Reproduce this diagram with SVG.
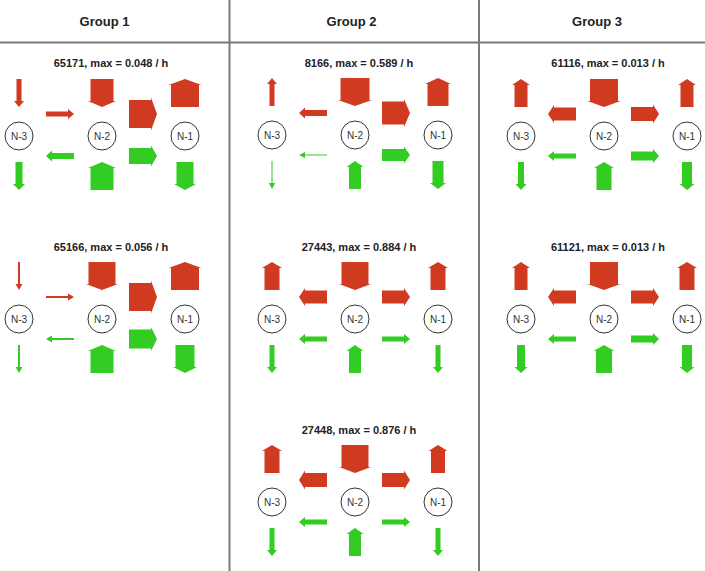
<svg xmlns="http://www.w3.org/2000/svg" width="705" height="571" viewBox="0 0 705 571">
<style>
.hdr{font-family:"Liberation Sans",Arial,sans-serif;font-size:13px;font-weight:bold;fill:#222;text-anchor:middle}
.ttl{font-family:"Liberation Sans",Arial,sans-serif;font-size:11px;font-weight:bold;fill:#222;text-anchor:middle}
.nd circle{fill:#fff;stroke:#333;stroke-width:1}
.nd text{font-family:"Liberation Sans",Arial,sans-serif;font-size:10px;fill:#333;text-anchor:middle}
.r{fill:#cf3a20}
.g{fill:#33cc22}
.grid{stroke:#7a7a7a;stroke-width:2;fill:none}
</style>
<defs>
<polygon id="a1" points="-14,-0.5 8,-0.5 8,-3 14,0 8,3 8,0.5 -14,0.5"/>
<polygon id="a2" points="-14,-1 8,-1 8,-3.5 14,0 8,3.5 8,1 -14,1"/>
<polygon id="a5" points="-14,-2.5 8,-2.5 8,-5 14,0 8,5 8,2.5 -14,2.5"/>
<polygon id="a6" points="-14,-3 8,-3 8,-5.5 14,0 8,5.5 8,3 -14,3"/>
<polygon id="a7" points="-14,-3.5 8,-3.5 8,-6 14,0 8,6 8,3.5 -14,3.5"/>
<polygon id="a8" points="-14,-4 8,-4 8,-6.5 14,0 8,6.5 8,4 -14,4"/>
<polygon id="a9" points="-14,-4.5 8,-4.5 8,-7 14,0 8,7 8,4.5 -14,4.5"/>
<polygon id="a10" points="-14,-5 8,-5 8,-7.5 14,0 8,7.5 8,5 -14,5"/>
<polygon id="a11" points="-14,-5.5 8,-5.5 8,-8 14,0 8,8 8,5.5 -14,5.5"/>
<polygon id="a12" points="-14,-6 8,-6 8,-8.5 14,0 8,8.5 8,6 -14,6"/>
<polygon id="a13" points="-14,-6.5 8,-6.5 8,-9 14,0 8,9 8,6.5 -14,6.5"/>
<polygon id="a14" points="-14,-7 8,-7 8,-9.5 14,0 8,9.5 8,7 -14,7"/>
<polygon id="a15" points="-14,-7.5 8,-7.5 8,-10 14,0 8,10 8,7.5 -14,7.5"/>
<polygon id="a16" points="-14,-8 8,-8 8,-10.5 14,0 8,10.5 8,8 -14,8"/>
<polygon id="a17" points="-14,-8.5 8,-8.5 8,-11 14,0 8,11 8,8.5 -14,8.5"/>
<polygon id="a19" points="-14,-9.5 8,-9.5 8,-12 14,0 8,12 8,9.5 -14,9.5"/>
<polygon id="a21" points="-14,-10.5 8,-10.5 8,-13 14,0 8,13 8,10.5 -14,10.5"/>
<polygon id="a23" points="-14,-11.5 8,-11.5 8,-14 14,0 8,14 8,11.5 -14,11.5"/>
<polygon id="a27" points="-14,-13.5 8,-13.5 8,-16 14,0 8,16 8,13.5 -14,13.5"/>
<polygon id="a28" points="-14,-14 8,-14 8,-16.5 14,0 8,16.5 8,14 -14,14"/>
<polygon id="a29" points="-14,-14.5 8,-14.5 8,-17 14,0 8,17 8,14.5 -14,14.5"/>
</defs>
<rect width="705" height="571" fill="#fff"/>
<g id="grid">
<line class="grid" x1="0" y1="42.5" x2="705" y2="42.5"/>
<line class="grid" x1="229.5" y1="0" x2="229.5" y2="571"/>
<line class="grid" x1="479" y1="0" x2="479" y2="571"/>
</g>
<g id="headers">
<text class="hdr" x="104.5" y="26">Group 1</text>
<text class="hdr" x="351.5" y="26">Group 2</text>
<text class="hdr" x="597" y="26">Group 3</text>
</g>
<g id="titles">
<text class="ttl" x="111" y="67">65171, max = 0.048 / h</text>
<text class="ttl" x="111" y="251">65166, max = 0.056 / h</text>
<text class="ttl" x="359" y="67">8166, max = 0.589 / h</text>
<text class="ttl" x="359" y="251">27443, max = 0.884 / h</text>
<text class="ttl" x="359" y="434">27448, max = 0.876 / h</text>
<text class="ttl" x="608" y="67">61116, max = 0.013 / h</text>
<text class="ttl" x="608" y="251">61121, max = 0.013 / h</text>
</g>
<g id="connectors">
<g id="c-p1">
<use href="#a5" class="r" transform="translate(19,93) rotate(90)"/>
<use href="#a23" class="r" transform="translate(102,93) rotate(90)"/>
<use href="#a28" class="r" transform="translate(185,93) rotate(-90)"/>
<use href="#a5" class="r" transform="translate(60,114)"/>
<use href="#a28" class="r" transform="translate(143,114)"/>
<use href="#a6" class="g" transform="translate(60,156) rotate(180)"/>
<use href="#a16" class="g" transform="translate(143,156)"/>
<use href="#a7" class="g" transform="translate(19,176) rotate(90)"/>
<use href="#a23" class="g" transform="translate(102,176) rotate(-90)"/>
<use href="#a17" class="g" transform="translate(185,176) rotate(90)"/>
</g>
<g id="c-p2">
<use href="#a2" class="r" transform="translate(19,276) rotate(90)"/>
<use href="#a27" class="r" transform="translate(102,276) rotate(90)"/>
<use href="#a28" class="r" transform="translate(185,276) rotate(-90)"/>
<use href="#a2" class="r" transform="translate(60,297)"/>
<use href="#a28" class="r" transform="translate(143,297)"/>
<use href="#a2" class="g" transform="translate(60,339) rotate(180)"/>
<use href="#a19" class="g" transform="translate(143,339)"/>
<use href="#a2" class="g" transform="translate(19,359) rotate(90)"/>
<use href="#a23" class="g" transform="translate(102,359) rotate(-90)"/>
<use href="#a19" class="g" transform="translate(185,359) rotate(90)"/>
</g>
<g id="c-p3">
<use href="#a5" class="r" transform="translate(272,92) rotate(-90)"/>
<use href="#a29" class="r" transform="translate(355,92) rotate(90)"/>
<use href="#a21" class="r" transform="translate(438,92) rotate(-90)"/>
<use href="#a6" class="r" transform="translate(313,113) rotate(180)"/>
<use href="#a23" class="r" transform="translate(396,113)"/>
<use href="#a1" class="g" transform="translate(313,155) rotate(180)"/>
<use href="#a12" class="g" transform="translate(396,155)"/>
<use href="#a1" class="g" transform="translate(272,175) rotate(90)"/>
<use href="#a12" class="g" transform="translate(355,175) rotate(-90)"/>
<use href="#a11" class="g" transform="translate(438,175) rotate(90)"/>
</g>
<g id="c-p4">
<use href="#a15" class="r" transform="translate(272,276) rotate(-90)"/>
<use href="#a27" class="r" transform="translate(355,276) rotate(90)"/>
<use href="#a15" class="r" transform="translate(438,276) rotate(-90)"/>
<use href="#a13" class="r" transform="translate(313,297) rotate(180)"/>
<use href="#a13" class="r" transform="translate(396,297)"/>
<use href="#a5" class="g" transform="translate(313,339) rotate(180)"/>
<use href="#a5" class="g" transform="translate(396,339)"/>
<use href="#a5" class="g" transform="translate(272,359) rotate(90)"/>
<use href="#a12" class="g" transform="translate(355,359) rotate(-90)"/>
<use href="#a5" class="g" transform="translate(438,359) rotate(90)"/>
</g>
<g id="c-p5">
<use href="#a15" class="r" transform="translate(272,459) rotate(-90)"/>
<use href="#a27" class="r" transform="translate(355,459) rotate(90)"/>
<use href="#a14" class="r" transform="translate(438,459) rotate(-90)"/>
<use href="#a14" class="r" transform="translate(313,480) rotate(180)"/>
<use href="#a14" class="r" transform="translate(396,480)"/>
<use href="#a5" class="g" transform="translate(313,522) rotate(180)"/>
<use href="#a5" class="g" transform="translate(396,522)"/>
<use href="#a5" class="g" transform="translate(272,542) rotate(90)"/>
<use href="#a12" class="g" transform="translate(355,542) rotate(-90)"/>
<use href="#a5" class="g" transform="translate(438,542) rotate(90)"/>
</g>
<g id="c-p6">
<use href="#a13" class="r" transform="translate(521,93) rotate(-90)"/>
<use href="#a28" class="r" transform="translate(604,93) rotate(90)"/>
<use href="#a13" class="r" transform="translate(687,93) rotate(-90)"/>
<use href="#a13" class="r" transform="translate(562,114) rotate(180)"/>
<use href="#a14" class="r" transform="translate(645,114)"/>
<use href="#a5" class="g" transform="translate(562,156) rotate(180)"/>
<use href="#a9" class="g" transform="translate(645,156)"/>
<use href="#a6" class="g" transform="translate(521,176) rotate(90)"/>
<use href="#a15" class="g" transform="translate(604,176) rotate(-90)"/>
<use href="#a10" class="g" transform="translate(687,176) rotate(90)"/>
</g>
<g id="c-p7">
<use href="#a13" class="r" transform="translate(521,276) rotate(-90)"/>
<use href="#a28" class="r" transform="translate(604,276) rotate(90)"/>
<use href="#a15" class="r" transform="translate(687,276) rotate(-90)"/>
<use href="#a13" class="r" transform="translate(562,297) rotate(180)"/>
<use href="#a13" class="r" transform="translate(645,297)"/>
<use href="#a5" class="g" transform="translate(562,339) rotate(180)"/>
<use href="#a7" class="g" transform="translate(645,339)"/>
<use href="#a8" class="g" transform="translate(521,359) rotate(90)"/>
<use href="#a16" class="g" transform="translate(604,359) rotate(-90)"/>
<use href="#a10" class="g" transform="translate(687,359) rotate(90)"/>
</g>
</g>
<g id="p1-n3" class="nd"><circle cx="19" cy="136" r="14"/><text x="19" y="139.5">N-3</text></g>
<g id="p1-n2" class="nd"><circle cx="102" cy="136" r="14"/><text x="102" y="139.5">N-2</text></g>
<g id="p1-n1" class="nd"><circle cx="185" cy="136" r="14"/><text x="185" y="139.5">N-1</text></g>
<g id="p2-n3" class="nd"><circle cx="19" cy="319" r="14"/><text x="19" y="322.5">N-3</text></g>
<g id="p2-n2" class="nd"><circle cx="102" cy="319" r="14"/><text x="102" y="322.5">N-2</text></g>
<g id="p2-n1" class="nd"><circle cx="185" cy="319" r="14"/><text x="185" y="322.5">N-1</text></g>
<g id="p3-n3" class="nd"><circle cx="272" cy="135" r="14"/><text x="272" y="138.5">N-3</text></g>
<g id="p3-n2" class="nd"><circle cx="355" cy="135" r="14"/><text x="355" y="138.5">N-2</text></g>
<g id="p3-n1" class="nd"><circle cx="438" cy="135" r="14"/><text x="438" y="138.5">N-1</text></g>
<g id="p4-n3" class="nd"><circle cx="272" cy="319" r="14"/><text x="272" y="322.5">N-3</text></g>
<g id="p4-n2" class="nd"><circle cx="355" cy="319" r="14"/><text x="355" y="322.5">N-2</text></g>
<g id="p4-n1" class="nd"><circle cx="438" cy="319" r="14"/><text x="438" y="322.5">N-1</text></g>
<g id="p5-n3" class="nd"><circle cx="272" cy="502" r="14"/><text x="272" y="505.5">N-3</text></g>
<g id="p5-n2" class="nd"><circle cx="355" cy="502" r="14"/><text x="355" y="505.5">N-2</text></g>
<g id="p5-n1" class="nd"><circle cx="438" cy="502" r="14"/><text x="438" y="505.5">N-1</text></g>
<g id="p6-n3" class="nd"><circle cx="521" cy="136" r="14"/><text x="521" y="139.5">N-3</text></g>
<g id="p6-n2" class="nd"><circle cx="604" cy="136" r="14"/><text x="604" y="139.5">N-2</text></g>
<g id="p6-n1" class="nd"><circle cx="687" cy="136" r="14"/><text x="687" y="139.5">N-1</text></g>
<g id="p7-n3" class="nd"><circle cx="521" cy="319" r="14"/><text x="521" y="322.5">N-3</text></g>
<g id="p7-n2" class="nd"><circle cx="604" cy="319" r="14"/><text x="604" y="322.5">N-2</text></g>
<g id="p7-n1" class="nd"><circle cx="687" cy="319" r="14"/><text x="687" y="322.5">N-1</text></g>
</svg>
